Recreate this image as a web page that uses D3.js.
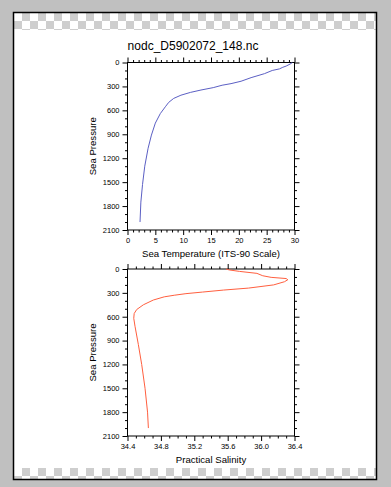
<!DOCTYPE html>
<html><head><meta charset="utf-8">
<script src="https://cdn.jsdelivr.net/npm/d3@7"></script>
<style>html,body{margin:0;padding:0;background:#c0c0c0;}svg{display:block;}</style>
</head><body>
<svg id="c" width="391" height="487"></svg>
<script>
// ---- data ----
const title = "nodc_D5902072_148.nc";
const pressureT = [0, 20, 45, 60, 80, 100, 140, 190, 235, 265, 285, 315, 345, 375, 410, 450, 500, 555, 640, 760, 910, 1075, 1300, 1530, 1750, 2000];
const temperature = [29.6, 29.2, 28.5, 27.9, 27.3, 26.0, 24.6, 22.2, 20.4, 18.6, 17.0, 15.4, 13.2, 11.3, 9.6, 8.3, 7.4, 6.8, 5.9, 5.0, 4.3, 3.7, 3.1, 2.7, 2.4, 2.25];
const pressureS = [0, 12, 30, 55, 85, 105, 120, 135, 160, 200, 240, 265, 290, 310, 330, 350, 390, 450, 510, 560, 620, 720, 950, 1200, 1500, 1800, 2000];
const salinity = [35.58, 35.62, 35.74, 35.95, 36.02, 36.12, 36.30, 36.32, 36.28, 36.15, 35.85, 35.55, 35.30, 35.10, 34.96, 34.84, 34.71, 34.59, 34.51, 34.48, 34.475, 34.49, 34.53, 34.57, 34.61, 34.64, 34.65];
const tempTicks = [0, 5, 10, 15, 20, 25, 30];
const salTicks = [34.4, 34.8, 35.2, 35.6, 36.0, 36.4];
const presTicks = [0, 300, 600, 900, 1200, 1500, 1800, 2100];

const svg = d3.select("#c");
const FONT = "'Liberation Sans', Arial, Helvetica, sans-serif";

// page frame
svg.append("rect").attr("x", 13.5).attr("y", 12.5).attr("width", 363).attr("height", 467)
  .attr("fill", "#fff").attr("stroke", "none");
// checkerboards
function checker(y0, rows, y1) {
  const g = svg.append("g");
  for (let r = 0; r < rows; r++) {
    for (let c = 0; c < 46; c++) {
      const x = 14 + c * 8;
      if (x >= 376) break;
      const y = y0 + r * 8;
      const h = Math.min(8, y1 - y);
      if (h <= 0) continue;
      g.append("rect").attr("x", x).attr("y", y).attr("width", Math.min(8, 376 - x)).attr("height", h)
        .attr("fill", (r + c) % 2 === 0 ? "#ffffff" : "#cecece");
    }
  }
}
checker(13, 3, 30);
checker(468, 2, 480);
svg.append("rect").attr("x", 13.5).attr("y", 12.5).attr("width", 363).attr("height", 467)
  .attr("fill", "none").attr("stroke", "#000").attr("stroke-width", 1.5);

svg.append("text").attr("x", 193).attr("y", 50).attr("text-anchor", "middle")
  .attr("font-family", FONT).attr("font-size", 12).attr("fill", "#000").text(title);

function panel(opts) {
  const { x, y, xTicks, xMinorStep, xFmt, xLabel, xs, ys, color } = opts;
  const g = svg.append("g");
  const x0 = x.range()[0], x1 = x.range()[1], y0 = y.range()[0], y1 = y.range()[1];
  const yMinor = d3.range(0, 2101, 100).filter(v => v % 300 !== 0);
  const d0 = x.domain()[0], d1 = x.domain()[1];
  const nMin = Math.round((d1 - d0) / xMinorStep);
  const xMinor = d3.range(0, nMin + 1).map(i => d0 + i * xMinorStep)
    .filter(v => !xTicks.some(t => Math.abs(t - v) < 1e-6));

  const style = sel => { sel.select(".domain").remove(); sel.selectAll("line").attr("stroke", "#000").attr("stroke-width", 1); sel.selectAll("text").attr("font-family", FONT).attr("font-size", 7.5).attr("fill", "#000"); };

  // bottom
  g.append("g").attr("transform", `translate(0,${y1})`).call(d3.axisBottom(x).tickValues(xTicks).tickFormat(xFmt).tickSize(5).tickPadding(3)).call(style);
  g.append("g").attr("transform", `translate(0,${y1})`).call(d3.axisBottom(x).tickValues(xMinor).tickFormat("").tickSize(2.5)).call(style);
  // top
  g.append("g").attr("transform", `translate(0,${y0})`).call(d3.axisTop(x).tickValues(xTicks).tickFormat("").tickSize(5)).call(style);
  g.append("g").attr("transform", `translate(0,${y0})`).call(d3.axisTop(x).tickValues(xMinor).tickFormat("").tickSize(2.5)).call(style);
  // left
  g.append("g").attr("transform", `translate(${x0},0)`).call(d3.axisLeft(y).tickValues(presTicks).tickFormat(d3.format("d")).tickSize(5).tickPadding(3)).call(style);
  g.append("g").attr("transform", `translate(${x0},0)`).call(d3.axisLeft(y).tickValues(yMinor).tickFormat("").tickSize(2.5)).call(style);
  // right
  g.append("g").attr("transform", `translate(${x1},0)`).call(d3.axisRight(y).tickValues(presTicks).tickFormat("").tickSize(5)).call(style);
  g.append("g").attr("transform", `translate(${x1},0)`).call(d3.axisRight(y).tickValues(yMinor).tickFormat("").tickSize(2.5)).call(style);

  g.append("rect").attr("x", x0).attr("y", y0).attr("width", x1 - x0).attr("height", y1 - y0)
    .attr("fill", "none").attr("stroke", "#000").attr("stroke-width", 1);

  const pts = xs.map((v, i) => [v, ys[i]]);
  g.append("path").datum(pts).attr("fill", "none").attr("stroke", color).attr("stroke-width", 1)
    .attr("d", d3.line().x(d => x(d[0])).y(d => y(d[1])));

  g.append("text").attr("x", (x0 + x1) / 2).attr("y", y1 + 27).attr("text-anchor", "middle")
    .attr("font-family", FONT).attr("font-size", 9.6).attr("fill", "#000").text(xLabel);
  g.append("text").attr("transform", `translate(${x0 - 32},${(y0 + y1) / 2}) rotate(-90)`).attr("text-anchor", "middle")
    .attr("font-family", FONT).attr("font-size", 9.6).attr("fill", "#000").text("Sea Pressure");
}

panel({
  x: d3.scaleLinear().domain([0, 30]).range([127.5, 294.5]),
  y: d3.scaleLinear().domain([0, 2100]).range([62.5, 230]),
  xTicks: tempTicks, xMinorStep: 1, xFmt: d3.format("d"),
  xLabel: "Sea Temperature (ITS-90 Scale)", xs: temperature, ys: pressureT, color: "#5b5fc4"
});
panel({
  x: d3.scaleLinear().domain([34.4, 36.4]).range([127.5, 294.5]),
  y: d3.scaleLinear().domain([0, 2100]).range([269, 436]),
  xTicks: salTicks, xMinorStep: 0.1, xFmt: d3.format(".1f"),
  xLabel: "Practical Salinity", xs: salinity, ys: pressureS, color: "#ff5f3f"
});
</script>
</body></html>
